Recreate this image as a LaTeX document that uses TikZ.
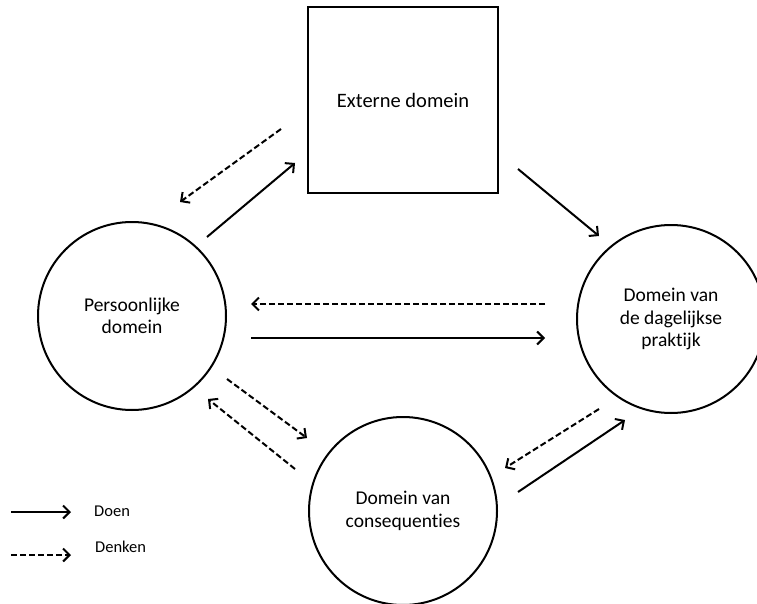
\documentclass[tikz,border=0pt]{standalone}
\usepackage{fontspec}
\setmainfont{Carlito}[Ligatures=NoCommon]
\usetikzlibrary{arrows.meta}
\begin{document}
\begin{tikzpicture}[x=1pt,y=-1pt,
  dom/.style={draw, circle, line width=2pt, minimum size=188pt, inner sep=0pt, align=center, font=\fontsize{19.5}{22.5}\selectfont},
  boxdom/.style={draw, rectangle, line width=2pt, minimum width=190pt, minimum height=186pt, inner sep=0pt, align=center, font=\fontsize{20.5}{23}\selectfont},
  doen/.style={line width=2pt, -{Straight Barb[length=6.5pt,width=13pt,line width=2pt]}},
  denken/.style={doen, dash pattern=on 6pt off 3pt},
  legtext/.style={anchor=west, inner sep=0pt, font=\fontsize{16.5}{19}\selectfont}
]
\useasboundingbox (0,0) rectangle (757,604);
\fill[white] (0,0) rectangle (757,604);

\node[boxdom] (ext) at (403,100) {Externe domein};
\node[dom] (pers) at (132,316) {Persoonlijke\\domein};
\node[dom] (prak) at (671,319) {Domein van\\de dagelijkse\\praktijk};
\node[dom] (cons) at (403,511) {Domein van\\consequenties};

% arrow end points
\coordinate (a1s) at (281,129); \coordinate (a1e) at (180,202);
\coordinate (a2s) at (207,237); \coordinate (a2e) at (295,163);
\coordinate (a3s) at (518,169); \coordinate (a3e) at (599,236);
\coordinate (a4s) at (545,304); \coordinate (a4e) at (251,304);
\coordinate (a5s) at (251,338); \coordinate (a5e) at (545,338);
\coordinate (a6s) at (227,379); \coordinate (a6e) at (307,438);
\coordinate (a7s) at (295,469); \coordinate (a7e) at (208,399);
\coordinate (a8s) at (599,409); \coordinate (a8e) at (505,468);
\coordinate (a9s) at (518,492); \coordinate (a9e) at (625,420);

\draw[denken] (a1s) -- (a1e);
\draw[doen] (a2s) -- (a2e);
\draw[doen] (a3s) -- (a3e);
\draw[denken] (a4s) -- (a4e);
\draw[doen] (a5s) -- (a5e);
\draw[denken] (a6s) -- (a6e);
\draw[denken] (a7s) -- (a7e);
\draw[denken] (a8s) -- (a8e);
\draw[doen] (a9s) -- (a9e);

% legend
\coordinate (l1s) at (11,512); \coordinate (l1e) at (71,512);
\coordinate (l2s) at (11,555); \coordinate (l2e) at (71,555);
\draw[doen] (l1s) -- (l1e);
\draw[denken] (l2s) -- (l2e);
\node[legtext] (tdoen) at (94,511) {Doen};
\node[legtext] (tdenken) at (95,547) {Denken};
\end{tikzpicture}
\end{document}
